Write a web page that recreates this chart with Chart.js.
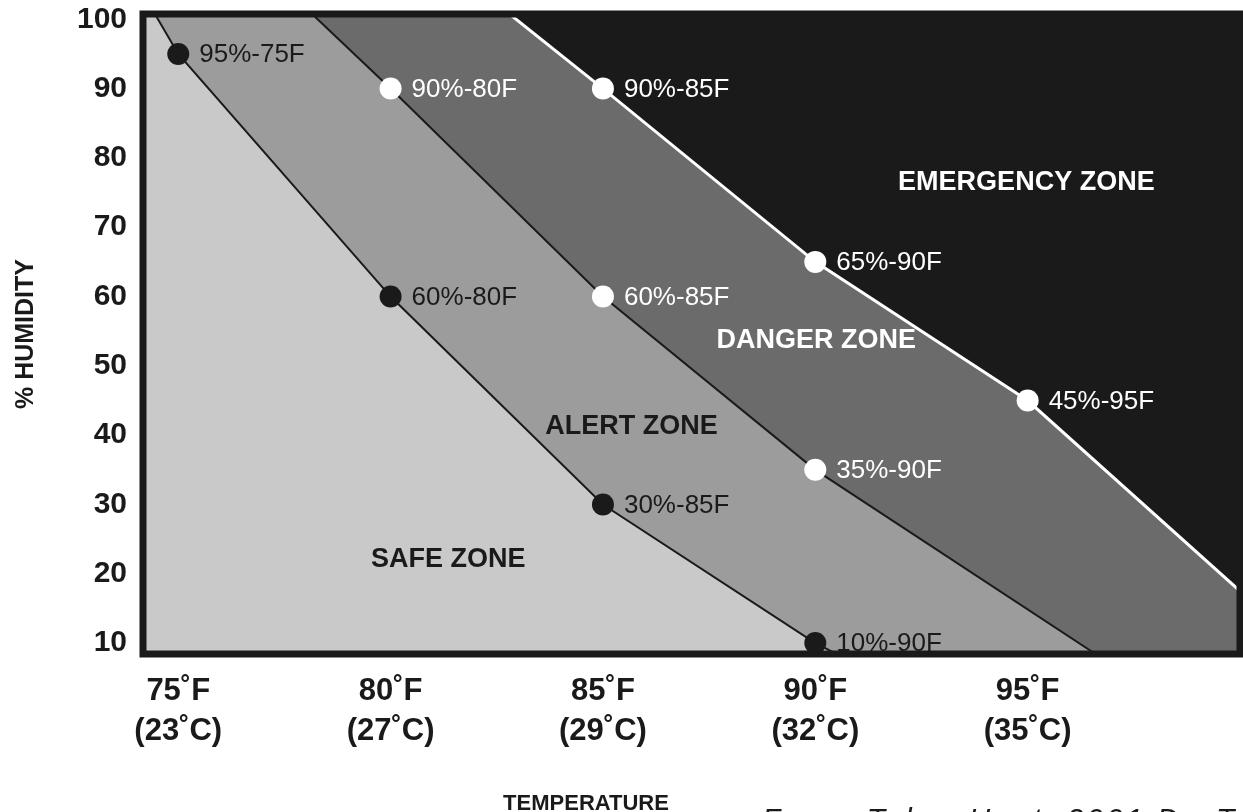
<!DOCTYPE html>
<html>
<head>
<meta charset="utf-8">
<script src="https://cdn.jsdelivr.net/npm/chart.js@4.4.1/dist/chart.umd.min.js"></script>
<style>
  html, body { margin: 0; padding: 0; background: #ffffff; overflow: hidden; }
  canvas { display: block; }
</style>
</head>
<body>
<canvas id="chart" width="1243" height="812"></canvas>
<script>
// ---------------- DATA ----------------
const tempTicksF = [75, 80, 85, 90, 95];
const tempTicksC = [23, 27, 29, 32, 35];
const humidityTicks = [10, 20, 30, 40, 50, 60, 70, 80, 90, 100];

// Safe / Alert boundary (black points)
const safeAlertTemp = [75, 80, 85, 90];
const safeAlertHum  = [95, 60, 30, 10];
// Alert / Danger boundary (white points)
const alertDangerTemp = [80, 85, 90];
const alertDangerHum  = [90, 60, 35];
// Danger / Emergency boundary (white points, white line)
const dangerEmergTemp = [85, 90, 95];
const dangerEmergHum  = [90, 65, 45];

// Where each boundary meets the frame (axis units)
const safeAlertEnds   = [74.45, 90.5];  // temp at top edge, temp at bottom edge
const alertDangerEnds = [78.15, 96.6];  // temp at top edge, temp at bottom edge
const dangerEmergEnds = [82.8, 17.5];   // temp at top edge, humidity at right edge

// Axis ranges
const X_MIN = 74.17, X_MAX = 100;
const Y_MIN = 8.43,  Y_MAX = 100.76;

// ---------------- STYLE ----------------
const INK = '#1a1a1a';
const COLORS = { safe: '#c9c9c9', alert: '#9c9c9c', danger: '#6b6b6b', emergency: '#1a1a1a' };
const FONT = "'Liberation Sans', Arial, Helvetica, sans-serif";
Chart.defaults.font.family = FONT;
Chart.defaults.color = INK;

function buildLine(temps, hums, start, ends) {
  const pts = temps.map((t, i) => ({ x: t, y: hums[i], label: hums[i] + '%-' + t + 'F' }));
  return [start].concat(pts, ends);
}

const safeAlertData = buildLine(safeAlertTemp, safeAlertHum,
  { x: safeAlertEnds[0], y: Y_MAX }, [{ x: safeAlertEnds[1], y: Y_MIN }, { x: X_MAX, y: Y_MIN }]);
const alertDangerData = buildLine(alertDangerTemp, alertDangerHum,
  { x: alertDangerEnds[0], y: Y_MAX }, [{ x: alertDangerEnds[1], y: Y_MIN }, { x: X_MAX, y: Y_MIN }]);
const dangerEmergData = buildLine(dangerEmergTemp, dangerEmergHum,
  { x: dangerEmergEnds[0], y: Y_MAX }, [{ x: X_MAX, y: dangerEmergEnds[1] }]);

const pointR = ctx => (ctx.raw && ctx.raw.label ? 11 : 0);

// ---------------- PLUGINS ----------------
const zoneBackground = {
  id: 'zoneBackground',
  beforeDatasetsDraw(chart) {
    const { ctx, chartArea: a } = chart;
    ctx.save();
    ctx.fillStyle = COLORS.safe;
    ctx.fillRect(a.left, a.top, a.right - a.left, a.bottom - a.top);
    ctx.restore();
  }
};

const annotations = {
  id: 'annotations',
  afterDatasetsDraw(chart, args, opts) {
    const { ctx, chartArea: a } = chart;
    const xs = chart.scales.x, ys = chart.scales.y;
    ctx.save();
    // point labels
    ctx.font = '26px ' + FONT;
    ctx.textAlign = 'left';
    ctx.textBaseline = 'middle';
    chart.data.datasets.forEach((ds, di) => {
      const meta = chart.getDatasetMeta(di);
      meta.data.forEach((el, i) => {
        const raw = ds.data[i];
        if (!raw.label) return;
        ctx.fillStyle = ds.labelColor;
        ctx.fillText(raw.label, el.x + 21, el.y + 1);
      });
    });
    // zone labels
    ctx.font = 'bold 27px ' + FONT;
    ctx.textAlign = 'center';
    opts.zones.forEach(z => {
      ctx.fillStyle = z.color;
      ctx.fillText(z.text, xs.getPixelForValue(z.x), ys.getPixelForValue(z.y));
    });
    // frame
    ctx.strokeStyle = INK;
    ctx.lineWidth = 7;
    ctx.strokeRect(a.left, a.top, a.right - a.left, a.bottom - a.top);
    ctx.restore();
  },
  afterDraw(chart, args, opts) {
    const { ctx } = chart;
    ctx.save();
    ctx.fillStyle = INK;
    ctx.textBaseline = 'alphabetic';
    ctx.textAlign = 'center';
    ctx.font = 'bold 22px ' + FONT;
    ctx.fillText(opts.xTitle, 586, 810);
    ctx.textAlign = 'left';
    ctx.font = 'italic 30px ' + FONT;
    try { ctx.letterSpacing = '3px'; } catch (e) {}
    ctx.fillText(opts.source, 762, 829);
    ctx.restore();
  }
};

// ---------------- CHART ----------------
new Chart(document.getElementById('chart'), {
  type: 'line',
  data: {
    datasets: [
      {
        label: 'Danger / Emergency',
        data: dangerEmergData,
        borderColor: '#ffffff', borderWidth: 3,
        backgroundColor: COLORS.emergency, fill: 'end',
        pointRadius: pointR, pointBackgroundColor: '#ffffff', pointBorderColor: '#ffffff', pointBorderWidth: 0,
        labelColor: '#ffffff', tension: 0
      },
      {
        label: 'Alert / Danger',
        data: alertDangerData,
        borderColor: INK, borderWidth: 2,
        backgroundColor: COLORS.danger, fill: 'end',
        pointRadius: pointR, pointBackgroundColor: '#ffffff', pointBorderColor: '#ffffff', pointBorderWidth: 0,
        labelColor: '#ffffff', tension: 0
      },
      {
        label: 'Safe / Alert',
        data: safeAlertData,
        borderColor: INK, borderWidth: 2,
        backgroundColor: COLORS.alert, fill: 'end',
        pointRadius: pointR, pointBackgroundColor: INK, pointBorderColor: INK, pointBorderWidth: 0,
        labelColor: INK, tension: 0
      }
    ]
  },
  options: {
    responsive: false,
    animation: false,
    devicePixelRatio: 1,
    layout: { padding: { left: 0, right: 3, top: 14, bottom: 0 } },
    plugins: {
      legend: { display: false },
      tooltip: { enabled: false },
      filler: { propagate: false },
      annotations: {
        xTitle: 'TEMPERATURE',
        source: 'From: Taber Hunt, 2001 Dr. T',
        zones: [
          { text: 'SAFE ZONE', x: 81.36, y: 22.1, color: INK },
          { text: 'ALERT ZONE', x: 85.67, y: 41.2, color: INK },
          { text: 'DANGER ZONE', x: 90.02, y: 53.7, color: '#ffffff' },
          { text: 'EMERGENCY ZONE', x: 94.97, y: 76.5, color: '#ffffff' }
        ]
      }
    },
    scales: {
      x: {
        type: 'linear', min: X_MIN, max: X_MAX,
        grid: { display: false, drawTicks: false },
        border: { display: false },
        afterBuildTicks: s => { s.ticks = tempTicksF.map(v => ({ value: v })); },
        afterFit: s => { s.height = 158; s.paddingLeft = 0; s.paddingRight = 0; },
        ticks: {
          padding: 17, color: INK, autoSkip: false, maxRotation: 0,
          font: { size: 31, weight: 'bold', lineHeight: 1.29 },
          callback: v => {
            const i = tempTicksF.indexOf(v);
            return [v + '˚F', '(' + tempTicksC[i] + '˚C)'];
          }
        }
      },
      y: {
        type: 'linear', min: Y_MIN, max: Y_MAX,
        grid: { display: false, drawTicks: false },
        border: { display: false },
        afterBuildTicks: s => { s.ticks = humidityTicks.map(v => ({ value: v })); },
        afterFit: s => { s.width = 143; s.paddingTop = 0; s.paddingBottom = 0; },
        ticks: { padding: 16, color: INK, autoSkip: false, font: { size: 30, weight: 'bold' } },
        title: {
          display: true, text: '% HUMIDITY', color: INK,
          font: { size: 25, weight: 'bold' }, padding: { top: 11, bottom: 0 }
        }
      }
    }
  },
  plugins: [zoneBackground, annotations]
});
</script>
</body>
</html>
